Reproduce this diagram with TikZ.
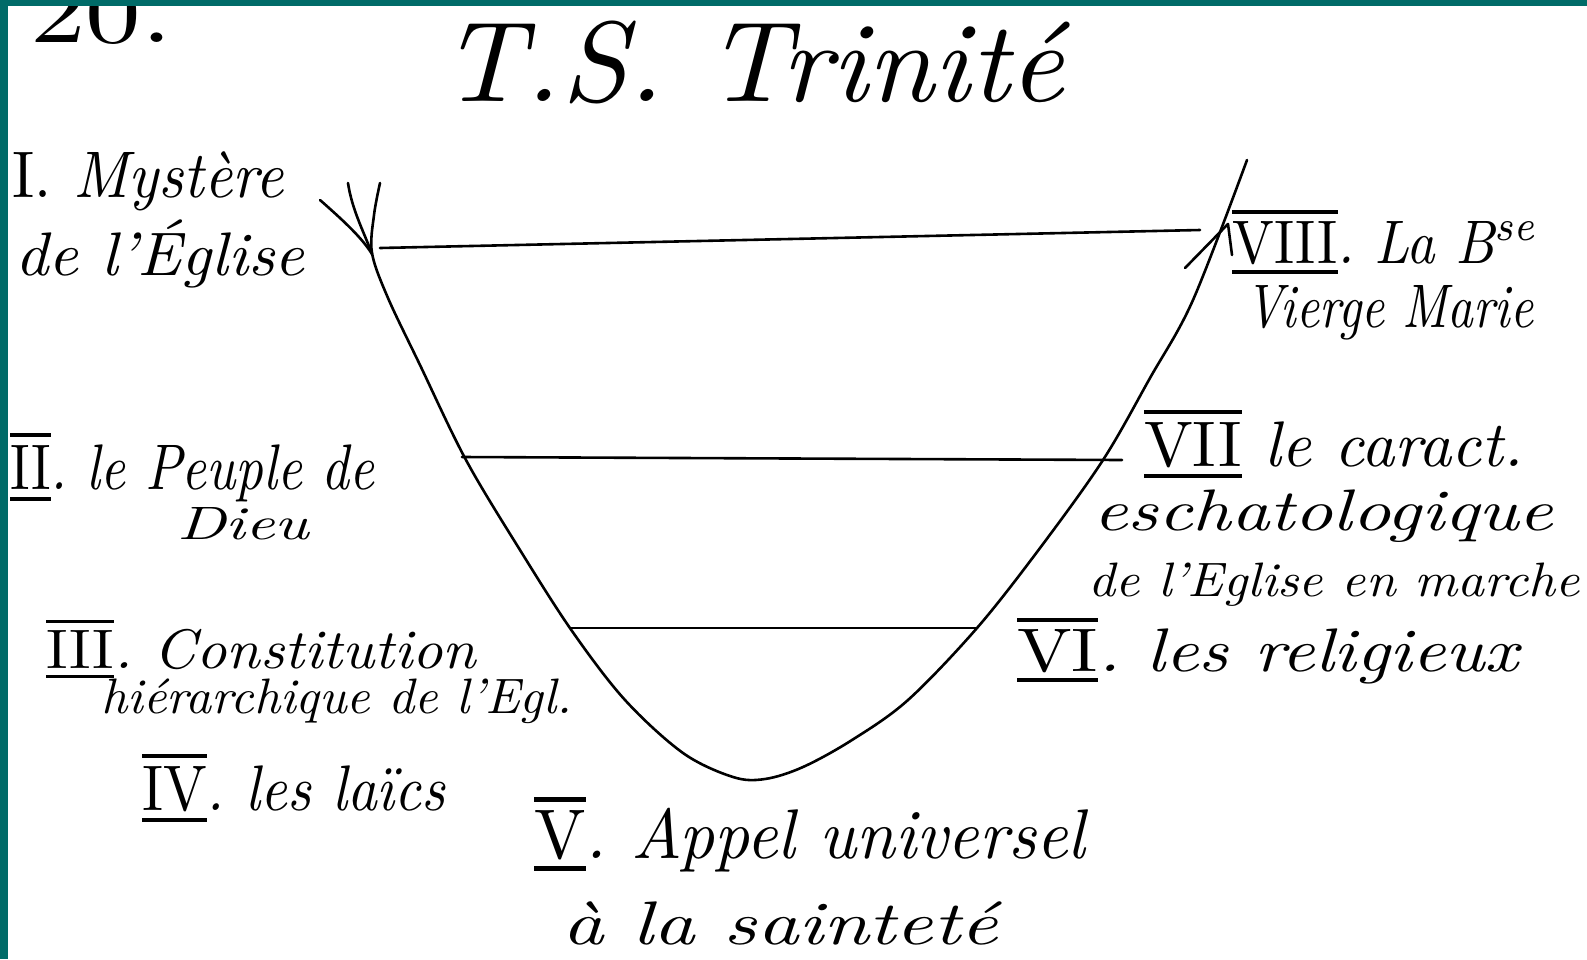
\documentclass[tikz,border=0pt]{standalone}
\usepackage{fontspec}
\usepackage{graphicx}
\definecolor{frameteal}{HTML}{006B68}
\newcommand\ovun[1]{\setbox0=\hbox{\upshape #1}\rlap{\rule[\dimexpr\ht0+0.12em\relax]{\wd0}{0.06em}}\rlap{\rule[-0.18em]{\wd0}{0.06em}}\box0}
% fit a line of text to a width #1 and a cap height #2 (both in pt = px)
\newcommand\fitwh[3]{\resizebox{#1pt}{#2pt}{\smash{#3}\vphantom{I}}}
\begin{document}
\begin{tikzpicture}[x=1pt,y=-1pt,
  lbl/.style={inner sep=0pt, anchor=base west, font=\itshape},
  pen/.style={line width=2.6pt, line cap=round, line join=round}]
\useasboundingbox (0,0) rectangle (1587,959);
\fill[white] (0,0) rectangle (1587,959);
% header
\node[lbl, font=\upshape] (num) at (30,42) {\fitwh{142}{62}{20.}};
\node[lbl] (title) at (440,101) {\fitwh{623}{78}{T.S. Trinité}};
% left labels
\node[lbl] (l1a) at (12,197) {\fitwh{271}{45}{\upshape I.\itshape\ Mystère}};
\node[lbl] (l1b) at (15,275) {\fitwh{289}{42}{de l'Église}};
\node[lbl] (l2a) at (10,489) {\fitwh{364}{44}{\ovun{II}.\ le Peuple de}};
\node[lbl] (l2b) at (177,539) {\fitwh{132}{32}{Dieu}};
\node[lbl] (l3a) at (46,668) {\fitwh{430}{38}{\ovun{III}.\ Constitution}};
\node[lbl] (l3b) at (101,713) {\fitwh{471}{34}{hiérarchique de l'Egl.}};
\node[lbl] (l4) at (142,810) {\fitwh{303}{44}{\ovun{IV}.\ les laïcs}};
% bottom
\node[lbl] (l5a) at (534,858) {\fitwh{551}{48}{\ovun{V}.\ Appel universel}};
\node[lbl] (l5b) at (562,944) {\fitwh{435}{42}{à la sainteté}};
% right labels
\node[lbl] (l6) at (1017,671) {\fitwh{501}{42}{\ovun{VI}.\ les religieux}};
\node[lbl] (l7a) at (1144,466) {\fitwh{379}{44}{\ovun{VII}\ le caract.}};
\node[lbl] (l7b) at (1093,530) {\fitwh{460}{40}{eschatologique}};
\node[lbl] (l7c) at (1088,596) {\fitwh{491}{33}{de l'Eglise en marche}};
\node[lbl] (l8a) at (1232,263) {\fitwh{305}{42}{\ovun{VIII}.\ La B\textsuperscript{se}}};
\node[lbl] (l8b) at (1245,327) {\fitwh{288}{42}{Vierge Marie}};
% bowl
\draw[pen] plot[smooth, tension=0.55] coordinates {
  (380,183) (374,215) (372,253) (388,298) (420,365) (466,460) (520,550)
  (572,631) (625,700) (683,753) (733,777) (765,779) (803,767) (852,740)
  (908,700) (977,628) (1040,548) (1103,460) (1150,378) (1193,300) (1247,160)};
% left fan strokes
\draw[pen] (320,200) .. controls (345,222) and (362,238) .. (372,254);
\draw[pen] (348,183) .. controls (352,210) and (364,232) .. (372,254);
% right mark
\draw[pen] (1185,268) -- (1228,224) -- (1232,255);
% horizontal levels
\draw[pen] (380,248) -- (1200,230);
\draw[pen] (462,457) -- (1122,460);
\draw[pen] (570,628) -- (977,628);
% frame
\fill[frameteal] (0,0) rectangle (1587,6);
\fill[frameteal] (0,0) rectangle (8,959);
\end{tikzpicture}
\end{document}
